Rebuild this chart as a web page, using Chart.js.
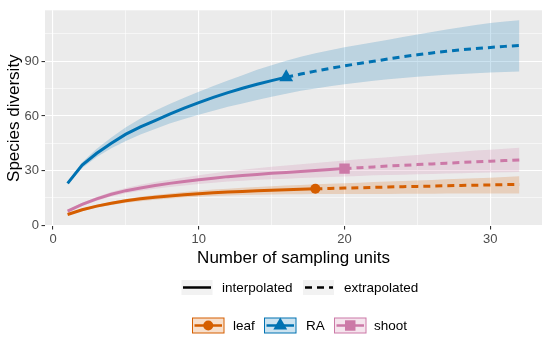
<!DOCTYPE html>
<html>
<head>
<meta charset="utf-8">
<script src="https://cdn.jsdelivr.net/npm/chart.js@4"></script>
<style>
  html, body { margin: 0; padding: 0; background: #fff; }
</style>
</head>
<body>
<canvas id="chart" width="550" height="338"></canvas>
<script>
// sampling units (x)
const units = [1, 2, 3, 4, 5, 6, 7, 8, 9, 10, 11, 12, 13, 14, 15, 16,
  17, 18, 19, 20, 21, 22, 23, 24, 25, 26, 27, 28, 29, 30, 31, 32]

// reference sample size of each assemblage
const leafRef = 18
const raRef = 16
const shootRef = 20

// estimated diversity and confidence band per assemblage
const leafEst = [5.9, 8.5, 10.5, 12.1, 13.5, 14.5, 15.4, 16.1, 16.8, 17.3, 17.8, 18.2, 18.6, 18.9, 19.2, 19.5,
  19.75, 20.0, 20.2, 20.4, 20.6, 20.8, 21.0, 21.2, 21.35, 21.5, 21.7, 21.85, 22.0, 22.15, 22.3, 22.4]
const leafLo = [5.5, 7.9, 9.7, 11.1, 12.3, 13.2, 14.0, 14.7, 15.2, 15.7, 16.1, 16.4, 16.6, 16.8, 16.9, 17.0,
  17.0, 17.1, 17.1, 17.1, 17.2, 17.2, 17.2, 17.3, 17.3, 17.3, 17.4, 17.4, 17.4, 17.5, 17.5, 17.5]
const leafHi = [6.3, 9.1, 11.2, 12.9, 14.4, 15.6, 16.6, 17.5, 18.3, 19.0, 19.6, 20.1, 20.6, 21.0, 21.4, 21.8,
  22.1, 22.5, 22.8, 23.1, 23.4, 23.7, 24.0, 24.3, 24.6, 24.9, 25.2, 25.5, 25.8, 26.1, 26.5, 26.9]

const raEst = [23.0, 33.0, 39.5, 45.0, 50.0, 54.0, 57.5, 61.0, 64.3, 67.3, 70.2, 72.8, 75.2, 77.4, 79.4, 81.3,
  83.0, 84.6, 86.1, 87.5, 88.8, 90.0, 91.3, 92.5, 93.6, 94.6, 95.5, 96.3, 97.0, 97.6, 98.2, 98.7]
const raLo = [22.3, 31.5, 37.5, 42.3, 46.3, 49.8, 52.9, 55.8, 58.3, 60.6, 62.9, 65.0, 66.9, 68.7, 70.5, 72.2,
  73.8, 75.1, 76.3, 77.4, 78.4, 79.3, 80.1, 80.8, 81.5, 82.1, 82.6, 83.1, 83.5, 83.9, 84.2, 84.4]
const raHi = [23.8, 34.6, 42.0, 48.2, 53.8, 58.6, 62.8, 66.6, 70.0, 73.3, 76.5, 79.5, 82.4, 85.3, 87.9, 90.3,
  92.5, 94.4, 96.1, 97.7, 99.1, 100.5, 101.9, 103.3, 104.7, 106.1, 107.4, 108.7, 109.9, 111.0, 111.9, 112.6]

const shootEst = [7.8, 11.5, 14.5, 17.0, 19.0, 20.5, 21.8, 23.0, 24.0, 25.0, 25.8, 26.7, 27.3, 27.9, 28.5, 29.0,
  29.5, 30.1, 30.6, 31.1, 31.6, 32.05, 32.5, 32.9, 33.3, 33.7, 34.1, 34.45, 34.8, 35.15, 35.5, 35.85]
const shootLo = [7.2, 10.7, 13.5, 15.8, 17.6, 18.9, 20.0, 21.0, 21.8, 22.6, 23.3, 24.0, 24.5, 25.0, 25.3, 25.6,
  25.9, 26.2, 26.5, 26.8, 27.1, 27.4, 27.6, 27.8, 28.0, 28.2, 28.4, 28.6, 28.8, 29.0, 29.15, 29.3]
const shootHi = [8.4, 12.3, 15.5, 18.2, 20.5, 22.2, 23.7, 25.0, 26.2, 27.4, 28.5, 29.6, 30.5, 31.3, 32.1, 32.8,
  33.5, 34.2, 34.9, 35.6, 36.2, 36.8, 37.4, 38.0, 38.6, 39.2, 39.8, 40.4, 41.0, 41.5, 42.0, 42.5]

// axis ticks (major ones get labels)
const xTicks = [0, 5, 10, 15, 20, 25, 30]
const yTicks = [0, 15, 30, 45, 60, 75, 90, 105]
const xLabels = [0, 10, 20, 30]
const yLabels = [0, 30, 60, 90]

const FONT = "'Liberation Sans', Arial, sans-serif"

function pts(ys, keep) {
  return units.map((u, i) => ({ x: u, y: ys[i] })).filter(p => keep(p.x))
}

function groupSets(color, fill, est, lo, hi, ref, style, radius) {
  return [
    { data: pts(lo, () => true), borderWidth: 0, pointRadius: 0, fill: false, order: 3 },
    { data: pts(hi, () => true), borderWidth: 0, pointRadius: 0, fill: "-1", backgroundColor: fill, order: 3 },
    { data: pts(est, u => u <= ref), borderColor: color, borderWidth: 3, pointRadius: 0,
      borderCapStyle: "butt", fill: false, order: 2 },
    { data: pts(est, u => u >= ref), borderColor: color, borderWidth: 3, pointRadius: 0,
      borderDash: [7, 5], borderCapStyle: "butt", fill: false, order: 2 },
    { data: [{ x: ref, y: est[ref - 1] }], showLine: false, pointStyle: style, pointRadius: radius,
      pointBackgroundColor: color, pointBorderWidth: 0, order: 1 }
  ]
}

const orange = "#D55E00", blue = "#0072B2", pink = "#CC79A7"

const datasets = [
  ...groupSets(orange, "rgba(213,94,0,0.2)", leafEst, leafLo, leafHi, leafRef, "circle", 5),
  ...groupSets(blue, "rgba(0,114,178,0.2)", raEst, raLo, raHi, raRef, "triangle", 8),
  ...groupSets(pink, "rgba(204,121,167,0.2)", shootEst, shootLo, shootHi, shootRef, "rect", 7.4)
]

function drawMarker(ctx, style, x, y, r, color) {
  ctx.fillStyle = color
  ctx.beginPath()
  if (style === "circle") {
    ctx.arc(x, y, r, 0, Math.PI * 2)
  } else if (style === "triangle") {
    ctx.moveTo(x, y - r)
    ctx.lineTo(x + r * 0.866, y + r / 2)
    ctx.lineTo(x - r * 0.866, y + r / 2)
    ctx.closePath()
  } else {
    const s = r * Math.SQRT1_2
    ctx.rect(x - s, y - s, 2 * s, 2 * s)
  }
  ctx.fill()
}

const panelPlugin = {
  id: "panel",
  beforeDraw(chart) {
    const { ctx, chartArea: a } = chart
    ctx.save()
    ctx.fillStyle = "#ffffff"
    ctx.fillRect(0, 0, chart.width, chart.height)
    ctx.fillStyle = "#EBEBEB"
    ctx.fillRect(a.left, a.top, a.right - a.left, a.bottom - a.top)
    ctx.restore()
  },
  afterDraw(chart) {
    const { ctx, chartArea: a } = chart
    ctx.save()
    ctx.fillStyle = "#000"
    ctx.font = "17px " + FONT

    // axis titles
    ctx.textAlign = "center"
    ctx.textBaseline = "alphabetic"
    ctx.fillText("Number of sampling units", (a.left + a.right) / 2, 262.5)
    ctx.save()
    ctx.translate(18.5, (a.top + a.bottom) / 2)
    ctx.rotate(-Math.PI / 2)
    ctx.fillText("Species diversity", 0, 0)
    ctx.restore()

    // legend: line type
    ctx.font = "13.5px " + FONT
    ctx.textAlign = "left"
    ctx.textBaseline = "middle"
    let y = 287.5
    ctx.fillStyle = "#F2F2F2"
    ctx.fillRect(181.5, 280, 31, 15)
    ctx.fillRect(303, 280, 31, 15)
    ctx.strokeStyle = "#000"
    ctx.lineWidth = 2.5
    ctx.lineCap = "butt"
    ctx.beginPath()
    ctx.moveTo(183, y); ctx.lineTo(211, y)
    ctx.stroke()
    ctx.setLineDash([7, 5])
    ctx.beginPath()
    ctx.moveTo(305, y); ctx.lineTo(333, y)
    ctx.stroke()
    ctx.setLineDash([])
    ctx.fillStyle = "#000"
    ctx.fillText("interpolated", 222, y + 0.5)
    ctx.fillText("extrapolated", 344, y + 0.5)

    // legend: assemblages
    y = 325.5
    const keys = [
      { x: 192.5, label: "leaf", tx: 233, color: orange, fill: "rgba(213,94,0,0.2)", style: "circle", r: 5 },
      { x: 264.5, label: "RA", tx: 306, color: blue, fill: "rgba(0,114,178,0.2)", style: "triangle", r: 8 },
      { x: 334.5, label: "shoot", tx: 374, color: pink, fill: "rgba(204,121,167,0.2)", style: "rect", r: 7.4 }
    ]
    keys.forEach(k => {
      ctx.fillStyle = k.fill
      ctx.fillRect(k.x, y - 7.5, 31.5, 15)
      ctx.strokeStyle = k.color
      ctx.lineWidth = 1
      ctx.strokeRect(k.x, y - 7.5, 31.5, 15)
      ctx.lineWidth = 2.5
      ctx.beginPath()
      ctx.moveTo(k.x + 2, y); ctx.lineTo(k.x + 29.5, y)
      ctx.stroke()
      drawMarker(ctx, k.style, k.x + 15.75, y, k.r, k.color)
      ctx.fillStyle = "#000"
      ctx.fillText(k.label, k.tx, y + 0.5)
    })
    ctx.restore()
  }
}

const ctx = document.getElementById("chart").getContext("2d")

new Chart(ctx, {
  type: "line",
  data: { datasets: datasets },
  plugins: [panelPlugin],
  options: {
    responsive: false,
    animation: false,
    devicePixelRatio: 1,
    layout: { padding: { left: 0, right: 3, top: 5, bottom: 72 } },
    plugins: {
      legend: { display: false },
      tooltip: { enabled: false }
    },
    scales: {
      x: {
        type: "linear",
        min: -0.55,
        max: 33.55,
        afterBuildTicks: (scale) => { scale.ticks = xTicks.map(v => ({ value: v })) },
        afterFit: (scale) => { scale.height = 40 },
        border: { display: false },
        grid: {
          color: "#ffffff",
          lineWidth: (c) => xLabels.includes(c.tick && c.tick.value) ? 1.1 : 0.55,
          tickColor: (c) => xLabels.includes(c.tick && c.tick.value) ? "#333333" : "rgba(0,0,0,0)",
          tickLength: 3.5,
          tickWidth: 1.1
        },
        ticks: {
          color: "#4D4D4D",
          font: { family: FONT, size: 13 },
          padding: 2,
          maxRotation: 0,
          autoSkip: false,
          callback: (v) => xLabels.includes(v) ? String(v) : ""
        }
      },
      y: {
        type: "linear",
        min: -0.4,
        max: 118,
        afterBuildTicks: (scale) => { scale.ticks = yTicks.map(v => ({ value: v })) },
        afterFit: (scale) => { scale.width = 45 },
        border: { display: false },
        grid: {
          color: "#ffffff",
          lineWidth: (c) => yLabels.includes(c.tick && c.tick.value) ? 1.1 : 0.55,
          tickColor: (c) => yLabels.includes(c.tick && c.tick.value) ? "#333333" : "rgba(0,0,0,0)",
          tickLength: 3.5,
          tickWidth: 1.1
        },
        ticks: {
          color: "#4D4D4D",
          font: { family: FONT, size: 13 },
          padding: 2.5,
          autoSkip: false,
          callback: (v) => yLabels.includes(v) ? String(v) : ""
        }
      }
    }
  }
})
</script>
</body>
</html>
